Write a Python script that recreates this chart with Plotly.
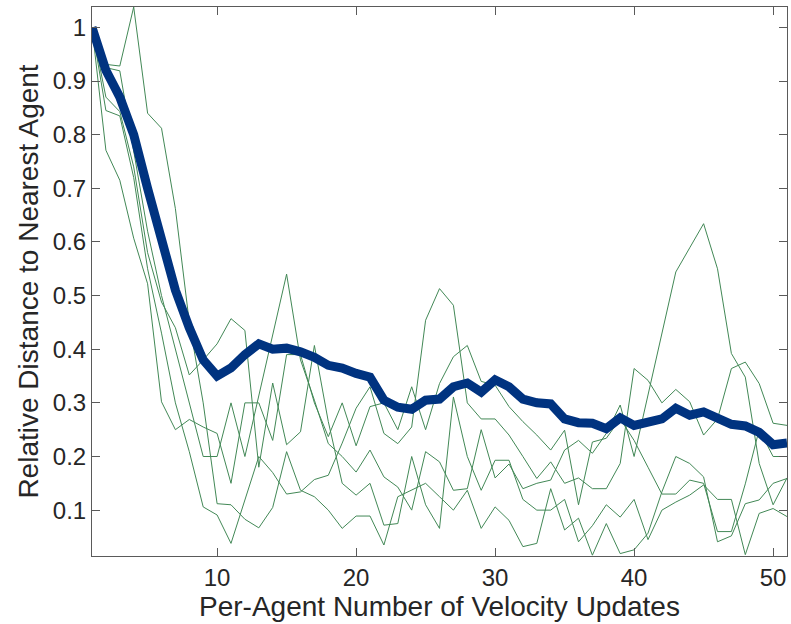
import plotly.graph_objects as go

# Per-agent update index
updates = list(range(1, 52))

# Mean relative distance across runs
mean_distance = [
    1.00, 0.92, 0.87, 0.80, 0.70, 0.60, 0.51, 0.44, 0.38, 0.35,
    0.365, 0.39, 0.41, 0.40, 0.402, 0.395, 0.385, 0.37, 0.365, 0.355,
    0.348, 0.305, 0.292, 0.288, 0.305, 0.307, 0.33, 0.337, 0.32, 0.343,
    0.33, 0.307, 0.30, 0.298, 0.27, 0.263, 0.262, 0.252, 0.272, 0.258,
    0.262, 0.27, 0.29, 0.277, 0.283, 0.27, 0.26, 0.257, 0.245, 0.222,
    0.225,
]

# Individual runs
run_1 = [
    1.00, 0.931, 0.928, 1.038, 0.84, 0.812, 0.662, 0.45, 0.30, 0.112,
    0.11, 0.083, 0.067, 0.105, 0.209, 0.137, 0.125, 0.10, 0.066, 0.089,
    0.089, 0.035, 0.125, 0.137, 0.15, 0.125, 0.10, 0.137, 0.066, 0.106,
    0.081, 0.032, 0.038, 0.14, 0.063, 0.085, 0.016, 0.075, 0.019, 0.026,
    0.057, 0.134, 0.20, 0.187, 0.162, 0.041, 0.052, 0.112, 0.119, 0.15,
    0.159,
]
run_2 = [
    1.00, 0.925, 0.919, 0.77, 0.62, 0.50, 0.40, 0.30, 0.20, 0.20,
    0.30, 0.20, 0.313, 0.427, 0.54, 0.38, 0.305, 0.224, 0.20, 0.171,
    0.212, 0.162, 0.143, 0.10, 0.209, 0.19, 0.137, 0.14, 0.25, 0.16,
    0.186, 0.14, 0.15, 0.156, 0.212, 0.23, 0.206, 0.243, 0.296, 0.20,
    0.316, 0.43, 0.544, 0.589, 0.634, 0.55, 0.392, 0.348, 0.187, 0.11,
    0.16,
]
run_3 = [
    1.00, 0.87, 0.843, 0.74, 0.58, 0.488, 0.44, 0.352, 0.38, 0.41,
    0.457, 0.435, 0.18, 0.337, 0.222, 0.246, 0.407, 0.265, 0.15, 0.128,
    0.15, 0.072, 0.075, 0.20, 0.11, 0.066, 0.311, 0.20, 0.137, 0.193,
    0.193, 0.12, 0.10, 0.10, 0.12, 0.041, 0.071, 0.11, 0.087, 0.12,
    0.045, 0.10, 0.115, 0.128, 0.147, 0.12, 0.12, 0.017, 0.094, 0.103,
    0.088,
]
run_4 = [
    1.00, 0.845, 0.835, 0.72, 0.55, 0.43, 0.30, 0.209, 0.106, 0.091,
    0.038, 0.12, 0.20, 0.17, 0.13, 0.134, 0.157, 0.165, 0.225, 0.29,
    0.33, 0.243, 0.224, 0.255, 0.454, 0.513, 0.482, 0.30, 0.27, 0.27,
    0.24, 0.20, 0.159, 0.19, 0.15, 0.16, 0.14, 0.14, 0.187, 0.364,
    0.342, 0.30, 0.325, 0.302, 0.24, 0.27, 0.364, 0.376, 0.336, 0.262,
    0.258,
]
run_5 = [
    1.00, 0.771, 0.715, 0.607, 0.522, 0.302, 0.25, 0.269, 0.255, 0.243,
    0.15, 0.30, 0.30, 0.23, 0.39, 0.39, 0.30, 0.237, 0.30, 0.22,
    0.293, 0.30, 0.25, 0.33, 0.25, 0.336, 0.386, 0.407, 0.34, 0.333,
    0.293, 0.265, 0.24, 0.212, 0.249, 0.11, 0.227, 0.234, 0.27, 0.23,
    0.18, 0.13, 0.13, 0.156, 0.15, 0.06, 0.06, 0.149, 0.25, 0.20,
    0.20,
]
runs = [run_1, run_2, run_3, run_4, run_5]

x_ticks = [10, 20, 30, 40, 50]
y_ticks = [0.1, 0.2, 0.3, 0.4, 0.5, 0.6, 0.7, 0.8, 0.9, 1.0]
y_tick_text = ["0.1", "0.2", "0.3", "0.4", "0.5", "0.6", "0.7", "0.8", "0.9", "1"]

RUN_COLOR = "rgb(66,136,86)"
MEAN_COLOR = "rgb(0,51,128)"
AXIS_COLOR = "#5a5a5a"
TEXT_COLOR = "#262626"
FONT = "Liberation Sans, Arial, sans-serif"

fig = go.Figure()
for run in runs:
    fig.add_trace(go.Scatter(
        x=updates, y=run, mode="lines",
        line=dict(color=RUN_COLOR, width=1),
        hoverinfo="skip", showlegend=False,
    ))
fig.add_trace(go.Scatter(
    x=updates, y=mean_distance, mode="lines",
    line=dict(color=MEAN_COLOR, width=9),
    showlegend=False,
))

axis_common = dict(
    showline=True, linecolor=AXIS_COLOR, linewidth=1, mirror="ticks",
    ticks="inside", ticklen=8, tickcolor=AXIS_COLOR, tickwidth=1,
    showgrid=False, zeroline=False,
    tickfont=dict(family=FONT, size=24, color=TEXT_COLOR),
)

fig.update_xaxes(
    range=[1, 51], tickvals=x_ticks,
    title=dict(text="Per-Agent Number of Velocity Updates",
               font=dict(family=FONT, size=28, color=TEXT_COLOR), standoff=4),
    **axis_common,
)
fig.update_yaxes(
    range=[0.0145, 1.038], tickvals=y_ticks, ticktext=y_tick_text,
    title=dict(text="Relative Distance to Nearest Agent",
               font=dict(family=FONT, size=28, color=TEXT_COLOR), standoff=6),
    **axis_common,
)

fig.update_layout(
    width=791, height=624,
    margin=dict(l=92, r=4, t=7, b=68),
    paper_bgcolor="white", plot_bgcolor="white",
    font=dict(family=FONT, color=TEXT_COLOR),
)

fig.write_html("out.html")
